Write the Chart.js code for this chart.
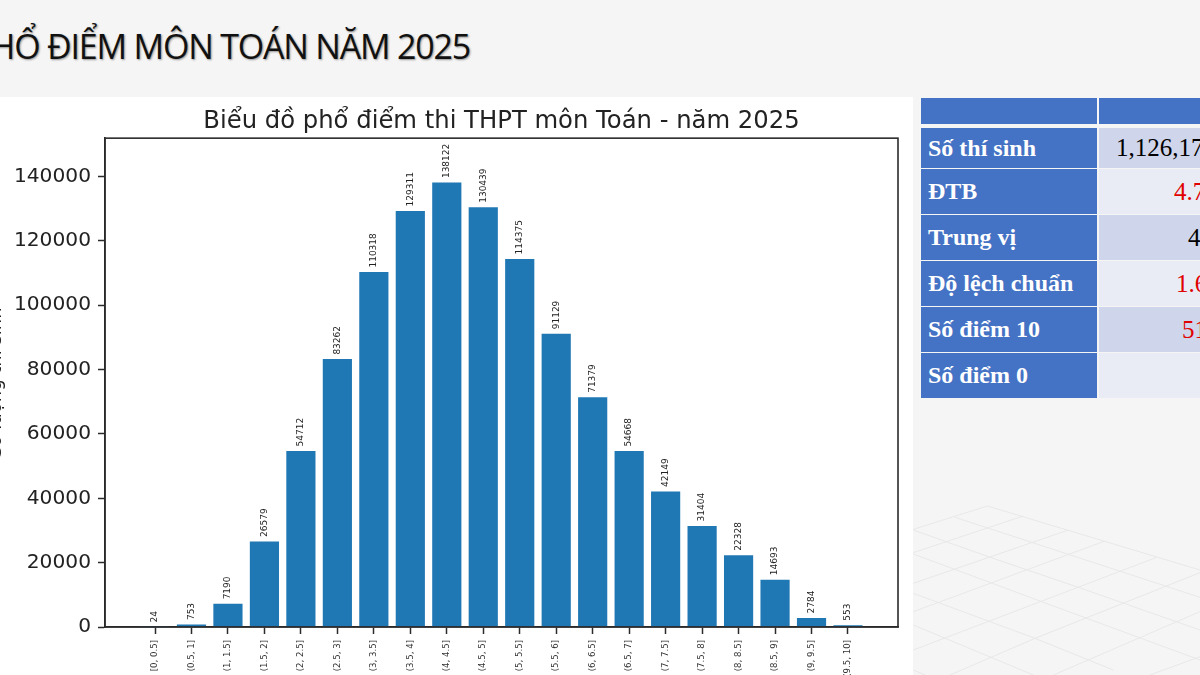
<!DOCTYPE html>
<html lang="vi">
<head>
<meta charset="utf-8">
<title>Phổ điểm môn Toán năm 2025</title>
<script src="https://cdn.jsdelivr.net/npm/chart.js@4"></script>
<style>
    html, body { margin: 0; padding: 0; width: 1200px; height: 675px; overflow: hidden; background: #f5f5f5; }
    #page { position: relative; width: 1200px; height: 675px; overflow: hidden; }
    #floor { position: absolute; left: 900px; top: 480px; width: 300px; height: 195px; }
    #panel { position: absolute; left: 0; top: 97px; width: 913px; height: 578px; background: #fff; }
    #heading {
        position: absolute; right: 730px; top: 23px; white-space: nowrap;
        font: 34px "Open Sans", sans-serif; letter-spacing: -1.2px; color: #111;
        text-shadow: 1px 1px 2px rgba(0,0,0,.4);
    }
    #chartBox { position: absolute; left: -16px; top: 97px; width: 930px; height: 625px; }
    .cell { position: absolute; box-sizing: border-box; font-family: "Liberation Serif", serif; font-size: 25px; line-height: 1; white-space: nowrap; overflow: hidden; }
    .head { background: #4472c4; color: #fff; font-weight: bold; padding-left: 7px; font-size: 24px; }
</style>
</head>
<body>
<div id="page">
    <svg id="floor" viewBox="0 0 900 585" fill="none" stroke="#e8e8e8" stroke-width="3"></svg>
    <div id="panel"></div>
    <div id="heading">PHỔ ĐIỂM MÔN TOÁN NĂM 2025</div>
    <div id="chartBox"><canvas id="chart"></canvas></div>
    <div id="table"></div>
</div>
<script>
// ================================
// DATA
// ================================
const binLabels = ["[0, 0.5]", "(0.5, 1]", "(1, 1.5]", "(1.5, 2]", "(2, 2.5]", "(2.5, 3]", "(3, 3.5]", "(3.5, 4]", "(4, 4.5]", "(4.5, 5]",
    "(5, 5.5]", "(5.5, 6]", "(6, 6.5]", "(6.5, 7]", "(7, 7.5]", "(7.5, 8]", "(8, 8.5]", "(8.5, 9]", "(9, 9.5]", "(9.5, 10]"];
const binCounts = [24, 753, 7190, 26579, 54712, 83262, 110318, 129311, 138122, 130439,
    114375, 91129, 71379, 54668, 42149, 31404, 22328, 14693, 2784, 553];
const yTicks = [0, 20000, 40000, 60000, 80000, 100000, 120000, 140000];

const statNames = ["Số thí sinh", "ĐTB", "Trung vị", "Độ lệch chuẩn", "Số điểm 10", "Số điểm 0"];
const statValues = ["1,126,17", "4.7", "4", "1.6", "51", ""];
const statColors = ["#000", "#e00000", "#000", "#e00000", "#e00000", "#000"];

// ================================
// BACKGROUND FLOOR GRID
// ================================
const floorLines = [
    "262,78 900,270", "165,112 395,187 900,352", "40,150 265,230 535,322 900,450", "40,222 425,365 900,540",
    "40,340 405,475 640,570", "40,435 400,585", "40,570 75,585",
    "40,148 262,78", "40,218 370,108", "40,310 505,150", "40,395 615,183", "40,510 770,232",
    "150,585 405,475 900,278", "460,585 900,395", "750,585 900,530"
];
document.getElementById("floor").innerHTML = floorLines.map(p => `<polyline points="${p}"/>`).join("");

// ================================
// STATS TABLE
// ================================
const rowTops = [128, 169, 215, 261, 307, 353];
const rowHeights = [40, 45, 47, 47, 45, 45];
const valueLefts = [1116, 1174, 1188, 1176, 1182, 1180];
const tableBox = document.getElementById("table");

function addCell(left, top, width, height, text, bg, cls, color, padLeft) {
    const d = document.createElement("div");
    d.className = "cell " + cls;
    d.style.cssText += `left:${left}px;top:${top}px;width:${width}px;height:${height}px;background:${bg};line-height:${height}px;`;
    if (color) d.style.color = color;
    if (padLeft) d.style.paddingLeft = padLeft + "px";
    d.textContent = text;
    tableBox.appendChild(d);
}

addCell(921, 98, 176, 26, "", "#4472c4", "head");
addCell(1099, 98, 101, 26, "", "#4472c4", "head");
statNames.forEach((name, i) => {
    addCell(921, rowTops[i], 176, rowHeights[i] - (i === 2 || i === 3 ? 2 : 0), name, "#4472c4", "head");
    addCell(1099, rowTops[i], 101, rowHeights[i] - (i === 2 || i === 3 ? 2 : 0), statValues[i], i % 2 === 0 ? "#cfd5ea" : "#e9ebf5", "", statColors[i], valueLefts[i] - 1099);
});

// ================================
// CHART
// ================================
const axisColor = "#2b2b2b";

// value labels above the bars and the box around the plot
const barTextPlugin = {
    id: "barText",
    afterDatasetsDraw(chart) {
        const ctx = chart.ctx;
        const a = chart.chartArea;
        ctx.save();
        ctx.strokeStyle = axisColor;
        ctx.lineWidth = 1.6;
        ctx.strokeRect(a.left, a.top, a.right - a.left, a.bottom - a.top);
        ctx.fillStyle = "#222";
        ctx.font = '9px "DejaVu Sans"';
        ctx.textAlign = "left";
        ctx.textBaseline = "middle";
        chart.getDatasetMeta(0).data.forEach((bar, i) => {
            ctx.save();
            ctx.translate(bar.x, bar.y - 4.5);
            ctx.rotate(-Math.PI / 2);
            ctx.fillText(String(binCounts[i]), 0, 0);
            ctx.restore();
        });
        ctx.restore();
    }
};

new Chart(document.getElementById("chart").getContext("2d"), {
    type: "bar",
    data: {
        datasets: [{
            data: binCounts.map((v, i) => ({ x: i, y: v })),
            backgroundColor: "#1f77b4",
            barPercentage: 0.8,
            categoryPercentage: 1
        }]
    },
    options: {
        responsive: true,
        maintainAspectRatio: false,
        animation: false,
        layout: { padding: { left: 0, right: 16, top: 0, bottom: 0 } },
        plugins: {
            legend: { display: false },
            tooltip: { enabled: false },
            title: {
                display: true,
                text: "Biểu đồ phổ điểm thi THPT môn Toán - năm 2025",
                fullSize: false,
                color: "#222",
                font: { family: "DejaVu Sans", size: 24.3, weight: "normal", lineHeight: 1.2 },
                padding: { top: 10, bottom: 2 }
            }
        },
        scales: {
            x: {
                type: "linear",
                offset: false,
                min: -1.371,
                max: 20.371,
                grid: { offset: false, drawOnChartArea: false, drawTicks: true, tickLength: 7, tickColor: axisColor, tickWidth: 1.5 },
                border: { color: axisColor, width: 1.6 },
                ticks: {
                    autoSkip: false,
                    minRotation: 90,
                    maxRotation: 90,
                    padding: 6,
                    color: "#333",
                    font: { family: "DejaVu Sans", size: 8.6 },
                    callback: v => binLabels[v]
                },
                afterBuildTicks: scale => {
                    scale.ticks = binLabels.map((_, i) => ({ value: i }));
                },
                afterFit: scale => { scale.height = 95; }
            },
            y: {
                min: 0,
                max: 151934,
                grid: { drawOnChartArea: false, drawTicks: true, tickLength: 7, tickColor: axisColor, tickWidth: 1.5 },
                border: { color: axisColor, width: 1.6 },
                title: {
                    display: true,
                    text: "Số lượng thí sinh",
                    color: "#222",
                    font: { family: "DejaVu Sans", size: 18 },
                    padding: { top: 2, bottom: 0 }
                },
                ticks: {
                    padding: 7,
                    color: "#222",
                    font: { family: "DejaVu Sans", size: 20.2 },
                    callback: v => String(v)
                },
                afterBuildTicks: scale => {
                    scale.ticks = yTicks.map(v => ({ value: v }));
                },
                afterFit: scale => { scale.width = 121; }
            }
        }
    },
    plugins: [barTextPlugin]
});
</script>
</body>
</html>
